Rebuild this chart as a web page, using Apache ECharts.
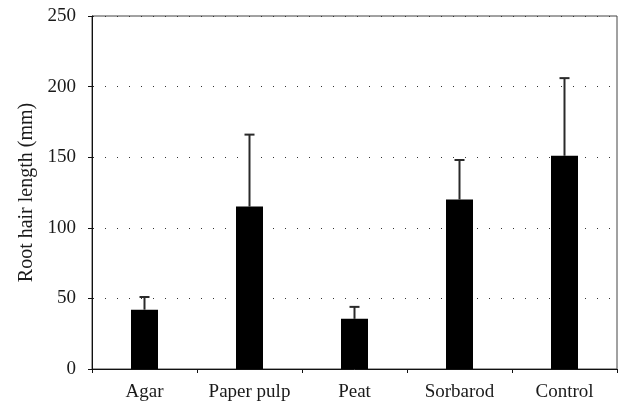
<!DOCTYPE html>
<html>
<head>
<meta charset="utf-8">
<script src="https://cdn.jsdelivr.net/npm/echarts@6/dist/echarts.min.js"></script>
<style>html,body{margin:0;padding:0;background:#fff;}#c{width:621px;height:406px;}</style>
</head>
<body>
<div id="c"></div>
<script>
const categories = ['Agar', 'Paper pulp', 'Peat', 'Sorbarod', 'Control'];
const means = [42, 115, 35.5, 120, 151];
const errorTops = [51, 166, 44, 148, 206];
const yTicks = [0, 50, 100, 150, 200, 250];

const font = 'Liberation Serif';
const chart = echarts.init(document.getElementById('c'), null, {renderer: 'canvas'});
chart.setOption({
  animation: false,
  backgroundColor: '#fff',
  grid: {left: 92, right: 4, top: 16, bottom: 37, show: true, borderColor: '#444', borderWidth: 1, backgroundColor: 'transparent'},
  xAxis: {
    type: 'category',
    data: categories,
    boundaryGap: true,
    axisLine: {lineStyle: {color: '#111', width: 1}},
    axisTick: {show: true, length: 4, inside: false, lineStyle: {color: '#111'}},
    axisLabel: {fontFamily: font, fontSize: 19, color: '#1a1a1a', margin: 14, interval: 0},
    splitLine: {show: false}
  },
  yAxis: {
    type: 'value',
    min: yTicks[0], max: yTicks[yTicks.length - 1], interval: 50,
    name: 'Root hair length (mm)',
    nameLocation: 'middle',
    nameGap: 55,
    nameTextStyle: {fontFamily: font, fontSize: 20, color: '#1a1a1a'},
    axisLine: {show: true, lineStyle: {color: '#111', width: 1}},
    axisTick: {show: true, length: 4, lineStyle: {color: '#111'}},
    axisLabel: {fontFamily: font, fontSize: 19, color: '#1a1a1a', margin: 16},
    splitLine: {show: true, lineStyle: {color: '#333', width: 1, type: [1, 11], dashOffset: 11}}
  },
  series: [
    {
      type: 'bar',
      data: means,
      barWidth: 27,
      itemStyle: {color: '#000'},
      z: 2
    },
    {
      type: 'custom',
      z: 3,
      data: categories.map((c, i) => [i, means[i], errorTops[i]]),
      renderItem: function (params, api) {
        const i = api.value(0);
        const base = api.coord([i, api.value(1)]);
        const top = api.coord([i, api.value(2)]);
        const half = 5;
        const style = {stroke: '#2a2a2a', lineWidth: 2};
        return {
          type: 'group',
          children: [
            {type: 'line', shape: {x1: base[0], y1: base[1], x2: top[0], y2: top[1]}, style: style},
            {type: 'line', shape: {x1: top[0] - half, y1: top[1], x2: top[0] + half, y2: top[1]}, style: style}
          ]
        };
      }
    }
  ]
});
</script>
</body>
</html>
